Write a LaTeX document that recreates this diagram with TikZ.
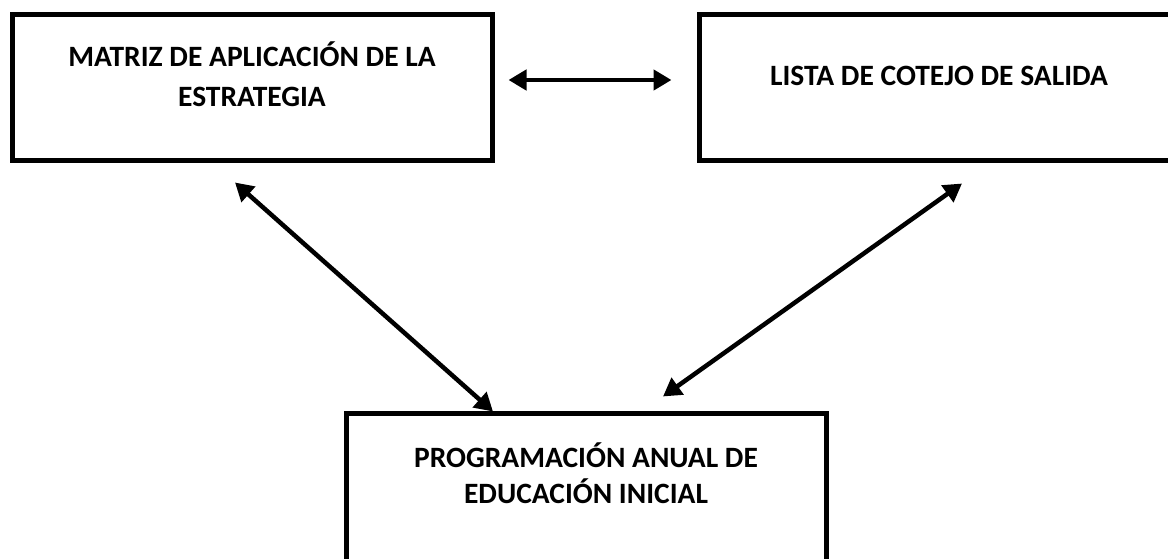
\documentclass[tikz,border=0pt]{standalone}
\usepackage{fontspec}
\setmainfont{Carlito}
\usetikzlibrary{arrows.meta}
\begin{document}
\begin{tikzpicture}[x=1pt,y=-1pt,
    box/.style={draw, line width=5pt, minimum width=480pt, minimum height=146pt},
    txt/.style={font=\bfseries\fontsize{29.5}{40}\selectfont, align=center, anchor=base, inner sep=0pt},
    link/.style={line width=4.5pt, {Triangle[length=18pt,width=20pt]}-{Triangle[length=18pt,width=20pt]}}]
  \useasboundingbox (0,0) rectangle (1168,559);
  \node[box] (matriz) at (252,88) {};
  \node[box] (salida) at (939,88) {};
  \node[box, minimum height=160pt] (programa) at (586,493) {};
  \node[txt] (matriztxt) at (252,107) {MATRIZ DE APLICACIÓN DE LA\\ESTRATEGIA};
  \node[txt] (salidatxt) at (939,86) {LISTA DE COTEJO DE SALIDA};
  \node[txt, font=\bfseries\fontsize{29.5}{36}\selectfont] (programatxt) at (586,503) {PROGRAMACIÓN ANUAL DE\\EDUCACIÓN INICIAL};
  % flechas dobles
  \draw[link] ([shift={(14,-8)}]matriz.east) -- ([shift={(-25,-8)}]salida.west);
  \draw[link] ([shift={(-17,19)}]matriz.south) -- ([shift={(-93,1)}]programa.north);
  \draw[link] ([shift={(77,-14)}]programa.north) -- ([shift={(23,20)}]salida.south);
\end{tikzpicture}
\end{document}
